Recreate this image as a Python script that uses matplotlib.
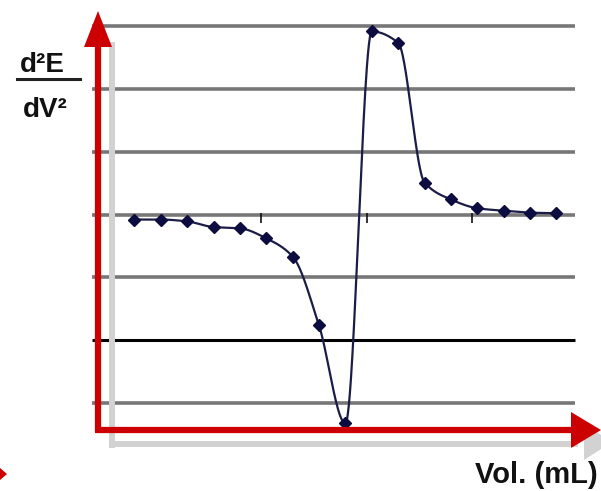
import numpy as np
import matplotlib
matplotlib.use("Agg")
import matplotlib.pyplot as plt
from matplotlib.patches import Polygon
from matplotlib.lines import Line2D

# Second-derivative titration curve: d2E/dV2 versus titrant volume
vol = [22.8, 23.05, 23.3, 23.55, 23.8, 24.05, 24.3, 24.55, 24.8,
       25.05, 25.3, 25.55, 25.8, 26.05, 26.3, 26.55, 26.8]
d2e = [-0.08, -0.08, -0.11, -0.20, -0.22, -0.38, -0.67, -1.77, -3.33,
       2.92, 2.74, 0.51, 0.24, 0.10, 0.06, 0.03, 0.02]
grid_levels = [3, 2, 1, 0, -1, -2, -3]
tick_vols = [24, 25, 26]

W, H = 601, 491


def pchip(x, y, xs):
    """Monotone piecewise-cubic (Fritsch-Carlson) curve through the points."""
    x = np.asarray(x, float)
    y = np.asarray(y, float)
    h = np.diff(x)
    d = np.diff(y) / h
    m = np.zeros_like(y)
    m[0], m[-1] = d[0], d[-1]
    for k in range(1, len(x) - 1):
        if d[k - 1] * d[k] <= 0:
            m[k] = 0.0
        else:
            w1 = 2 * h[k] + h[k - 1]
            w2 = h[k] + 2 * h[k - 1]
            m[k] = (w1 + w2) / (w1 / d[k - 1] + w2 / d[k])
    idx = np.clip(np.searchsorted(x, xs) - 1, 0, len(x) - 2)
    t = (xs - x[idx]) / h[idx]
    h00 = 2 * t**3 - 3 * t**2 + 1
    h10 = t**3 - 2 * t**2 + t
    h01 = -2 * t**3 + 3 * t**2
    h11 = t**3 - t**2
    return (h00 * y[idx] + h10 * h[idx] * m[idx]
            + h01 * y[idx + 1] + h11 * h[idx] * m[idx + 1])


fig = plt.figure(figsize=(W / 100, H / 100), dpi=100)
fig.patch.set_facecolor("white")
ax = fig.add_axes([0, 0, 1, 1])
ax.set_xlim(21.5261, 27.2227)
ax.set_ylim(-4.4099, 3.4211)
ax.axis("off")


def fpx(x, y):
    return (x / W, 1 - y / H)


# drop shadow of the axis arrows
sh = "#d2d2d2"
fig.add_artist(Line2D([112 / W, 112 / W], [1 - 445 / H, 1 - 45 / H],
                      color=sh, lw=4.3, zorder=1))
fig.add_artist(Line2D([112 / W, 575 / W], [1 - 444 / H, 1 - 444 / H],
                      color=sh, lw=4.3, zorder=1))
fig.add_artist(Polygon([fpx(584, 424), fpx(612, 442), fpx(584, 460)],
                       closed=True, color=sh, lw=0, zorder=1))

# horizontal grid lines
x_left = 21.5261 + 92 / 105.5
x_right = 21.5261 + 575 / 105.5
for lv in grid_levels:
    col = "#000000" if lv == -2 else "#777777"
    lw = 2.2 if lv == -2 else 2.6
    ax.hlines(lv, x_left, x_right, colors=col, lw=lw, zorder=2)

# small ticks on the zero line
ax.vlines(tick_vols, -0.13, 0.02, colors="#111111", lw=1.2, zorder=3)

# red axis arrows
red = "#cc0000"
fig.add_artist(Line2D([98 / W, 98 / W], [1 - 432 / H, 1 - 40 / H],
                      color=red, lw=4.5, zorder=4, solid_capstyle="butt"))
fig.add_artist(Polygon([fpx(98, 11), fpx(84, 47), fpx(112, 47)],
                       closed=True, color=red, lw=0, zorder=4))
fig.add_artist(Line2D([95 / W, 575 / W], [1 - 430 / H, 1 - 430 / H],
                      color=red, lw=4.5, zorder=4, solid_capstyle="butt"))
fig.add_artist(Polygon([fpx(571, 412), fpx(601, 430), fpx(571, 448)],
                       closed=True, color=red, lw=0, zorder=4))
fig.add_artist(Polygon([fpx(0, 468), fpx(7, 474), fpx(0, 480)],
                       closed=True, color=red, lw=0, zorder=4))

# smoothed data curve with markers
xs = np.linspace(vol[0], vol[-1], 800)
ax.plot(xs, pchip(vol, d2e, xs), color="#1c1c48", lw=1.6, zorder=5)
ax.plot(vol, d2e, ls="none", marker="D", ms=6, color="#0c0c40",
        mec="#0c0c40", zorder=6)

# axis labels
lab = dict(color="#111111", fontweight="bold", zorder=7)
fig.text(*fpx(42, 72), "d\u00b2E", ha="center", va="baseline",
         fontsize=20, family=["Liberation Sans", "DejaVu Sans"], **lab)
fig.add_artist(Line2D([17 / W, 80 / W], [1 - 79 / H, 1 - 79 / H],
                      color="#222222", lw=2.2, zorder=7))
fig.text(*fpx(45, 117), "dV\u00b2", ha="center", va="baseline",
         fontsize=20, family=["Liberation Sans", "DejaVu Sans"], **lab)
fig.text(*fpx(598, 483), "Vol. (mL)", ha="right", va="baseline",
         fontsize=21, family=["Liberation Sans", "DejaVu Sans"], **lab)

fig.savefig("out.png", dpi=100, facecolor="white")
